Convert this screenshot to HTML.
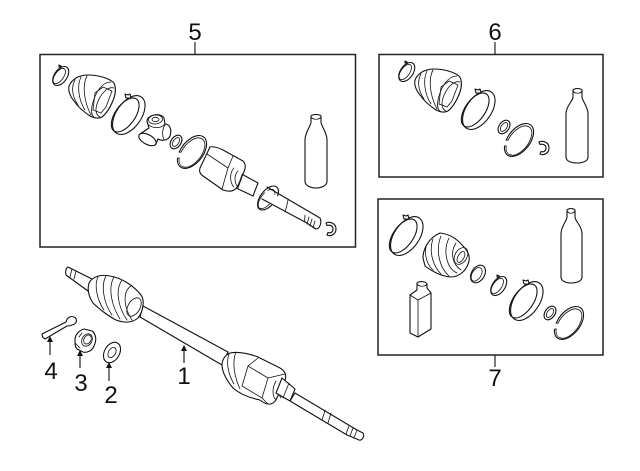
<!DOCTYPE html>
<html><head><meta charset="utf-8"><style>
html,body{margin:0;padding:0;background:#fff}
svg{display:block}
.l{fill:#fff;stroke:#111;stroke-width:1.1;stroke-linejoin:round;stroke-linecap:round}
.n{fill:none;stroke:#111;stroke-width:.8;stroke-linecap:round;stroke-linejoin:round}
.o{fill:none;stroke:#111;stroke-width:1.1;stroke-linecap:round;stroke-linejoin:round}
text{font-family:"Liberation Sans",sans-serif;font-size:24px;fill:#111;text-anchor:middle}
</style></head><body>
<svg width="640" height="471" viewBox="0 0 640 471" xmlns="http://www.w3.org/2000/svg">
<defs>
<g id="boot">
<path class="l" d="M69,86C72,79 79,75 88,75C98,75 108,78 113,82C116,85 116,92 114,98C111,106 107,113 102,117C98,119 94,118 90,116C84,112 78,107 74,101C70,96 68,91 69,86Z"/>
<path class="n" d="M75,80C71,87 72,96 78,105M81,77C77,85 78,99 85,110M87,76C82,85 84,102 91,115"/>
<path class="n" d="M111,82C102,82 96,92 93,102C91,109 91,115 94,117M114,88C107,86 100,95 97,104C95,110 96,115 100,117"/>
<path class="n" d="M95,93L103,87L112,91L106,107L101,113L93,110Z"/>
</g>
<g id="clampB">
<ellipse class="l" cx="1.500" cy="-1" rx="12.500" ry="22" transform="rotate(35)"/>
<ellipse class="o" cx="-1.500" cy="1" rx="10" ry="19.500" transform="rotate(35)"/>
<path class="l" d="M-1,-17L-2,-21L1,-20L3,-21L4,-17Z"/>
</g>
<g id="clampS">
<ellipse class="l" cx=".6" cy="-.4" rx="6.300" ry="10.700" transform="rotate(35)"/>
<ellipse class="n" cx="-.6" cy=".4" rx="4.400" ry="8.800" transform="rotate(35)"/>
<path class="l" d="M-1,-9L-1,-11L1,-10L2,-9Z"/>
</g>
<g id="ring">
<ellipse class="l" cx="0" cy="0" rx="5" ry="7.500" transform="rotate(35)"/>
<ellipse class="n" cx="0" cy="0" rx="2.800" ry="5" transform="rotate(35)"/>
</g>
<g id="snap">
<g transform="rotate(38)">
<path class="o" d="M-10,8A11,19 0 1 1 -7.500,13.900"/>
<path class="n" d="M-8.500,7A9.500,17 0 1 1 -6.500,12.400M-10,8L-8.500,7M-7.500,13.900L-6.500,12.400"/>
</g>
</g>
<g id="clip">
<path class="o" d="M-4,-6C1,-8 6,-5 6,0C6,5 1,8 -3,6L-2,3.500C1,4.500 3,3 3,0C3,-3 0,-4.500 -3,-3.500Z"/>
</g>
</defs>

<g fill="none" stroke="#222" stroke-width="1.5">
<rect x="40" y="54.500" width="315.500" height="192.500"/>
<rect x="379" y="54.500" width="224" height="122.500"/>
<rect x="378" y="199" width="225" height="156"/>
</g>
<g stroke="#111" stroke-width="1.1">
<path d="M195,42V54M495,42V54M495,355V367"/>
<path d="M50,340V355M80,354V368M109,366V381M184,349V363"/>
</g>
<path fill="#111" d="M50,336l-3,6h6zM80,350l-3,6h6zM109,362l-3,6h6zM184,345l-3,6h6z"/>
<text x="195" y="40">5</text><text x="495" y="40">6</text>
<text x="495" y="386">7</text>
<text x="51" y="379">4</text><text x="81" y="391">3</text><text x="111" y="403">2</text><text x="184" y="384">1</text>

<!-- box 5 -->
<use href="#clampS" x="60" y="76"/>
<use href="#boot"/>
<use href="#clampB" x="127" y="115"/>
<path class="l" d="M147,121C147,115 160,112 164,118L165,124C170,124 172,130 170,136C168,141 161,141 158,139L156,144L140,134L149,128Z"/>
<ellipse class="n" cx="155.500" cy="119.500" rx="7" ry="4.500" transform="rotate(-5 155.500 119.500)"/>
<ellipse class="n" cx="155.500" cy="119.500" rx="3.500" ry="2.200"/>
<ellipse class="l" cx="147.500" cy="139.500" rx="9.500" ry="4.800" transform="rotate(28 147.500 139.500)"/>
<path class="n" d="M147,122C148,128 160,130 165,124M165,125C162,129 162,135 164,140"/>
<use href="#ring" x="176" y="142"/>
<use href="#snap" x="192" y="152"/>
<path class="l" d="M238,172L258,183L253,196L234,187Z"/>
<path class="n" d="M243,174L238,188"/>
<ellipse class="l" cx="268" cy="198" rx="7.500" ry="14" transform="rotate(38 268 198)"/>
<ellipse class="n" cx="266.500" cy="199" rx="5.500" ry="11.500" transform="rotate(38 266.500 199)"/>
<path d="M266,190L318,218L316,229L304,222L262,200Z" fill="#fff"/>
<path class="o" d="M267,187L320,218C322,222 320,229 316,229L305,222L262,199"/>
<path class="n" d="M288,200C287,205 286,209 285,212M305,215C305,218 304,220 305,222M309,217L307,224M312,219L310,226M315,221L313,228"/>
<path class="l" d="M210,147C214,146 219,148 223,150L243,161C247,165 245,171 242,175C240,181 238,188 234,190C231,192 226,191 223,190L203,176C200,174 199,171 200,168Z"/>
<path class="n" d="M207,154L228,168L222,189M228,168L233,156"/>
<path class="n" d="M234,168C230,172 229,182 234,187M238,171C234,175 234,183 238,187"/>
<use href="#clip" x="330" y="229"/>
<path class="l" d="M311,116L311,122C311,126 305,132 305,140L305,181C305,186 311,188 316,188C321,188 327,186 327,181L327,140C327,132 321,126 321,122L321,116C319,114 313,114 311,116Z"/>
<path class="n" d="M311,117C313,120 319,120 321,117"/>

<!-- box 6 -->
<use href="#clampS" x="406" y="72"/>
<use href="#boot" x="346" y="-6"/>
<use href="#clampB" x="477" y="110"/>
<use href="#ring" x="504" y="127"/>
<use href="#snap" x="519" y="140"/>
<use href="#clip" x="543" y="148"/>
<path class="l" d="M573,90L573,97C573,101 566,106 566,114L566,157C566,161 571,163 577,163C583,163 588,161 588,157L588,114C588,106 582,101 582,97L582,90C580,88 575,88 573,90Z"/>
<path class="n" d="M573,91C575,94 580,94 582,91"/>

<!-- box 7 -->
<use href="#clampB" x="405" y="236"/>
<path class="l" d="M423,258C423,250 428,238 440,233C450,234 458,240 463,246C468,251 470,256 469,261C467,270 460,277 450,277C440,276 430,270 425,266Z"/>
<path class="n" d="M426,247C424,256 428,266 433,270M433,239C429,250 432,265 441,274M441,236C436,248 438,266 449,276M449,238C443,250 446,268 457,273M456,243C450,252 452,264 461,270"/>
<ellipse class="n" cx="461" cy="256" rx="6" ry="9" transform="rotate(30 461 256)"/>
<ellipse class="n" cx="461" cy="257" rx="3" ry="6" transform="rotate(30 461 257)"/>
<ellipse class="l" cx="478" cy="274" rx="6.500" ry="9.500" transform="rotate(32 478 274)"/>
<ellipse class="n" cx="477" cy="275" rx="4.500" ry="7.500" transform="rotate(32 478 274)"/>
<use href="#clampS" x="498" y="286"/>
<use href="#clampB" x="525" y="301"/>
<use href="#ring" x="550" y="313"/>
<use href="#snap" x="569" y="323"/>
<path class="l" d="M567,210L567,217C567,221 561,226 561,234L561,277C561,281 566,283 571,283C577,283 582,281 582,277L582,234C582,226 575,221 575,217L575,210C573,208 569,208 567,210Z"/>
<path class="n" d="M567,211C569,214 573,214 575,211"/>
<path class="l" d="M410,295L417,290L417,283C419,281 426,281 427,284L427,288L431,293L431,329L418,337L410,333Z"/>
<path class="n" d="M410,295L418,300L431,293M418,300L418,337M417,284C419,287 425,287 427,284"/>

<!-- main shaft -->
<path class="l" d="M68,267L92,279L88,291L66,275C65,272 66,268 68,267Z"/>
<path class="n" d="M72,269L70,277M76,271L74,279"/>
<path class="l" d="M143,306L228,352L222,365L140,317Z"/>
<path class="l" d="M89,283C92,277 100,274 110,276C122,278 134,286 141,295C145,300 143,312 138,318C132,323 124,323 116,320C108,316 98,308 93,303C89,297 87,290 89,283Z"/>
<path class="n" d="M98,277C94,285 97,300 104,310M106,276C101,285 103,302 112,315M114,277C108,287 111,305 120,319M122,280C115,290 118,307 127,320M131,286C122,292 124,308 132,320"/>
<ellipse class="n" cx="134" cy="307" rx="6" ry="10" transform="rotate(30 134 307)"/>
<path class="l" d="M295,393L357,430L363,433C365,436 362,441 359,440L347,435L290,401Z"/>
<path class="n" d="M325,410C324,414 323,417 322,420M331,413L328,423M349,426L346,434M353,428L350,436M357,430L354,438"/>
<path class="l" d="M222,365C222,360 225,355 230,353C240,351 250,354 258,357L280,368C287,372 287,378 283,385L276,400C272,406 266,405 260,400C250,398 240,394 233,388C227,381 222,372 222,365Z"/>
<path class="n" d="M229,354C226,362 228,374 234,384M236,352C232,362 234,376 240,389"/>
<path class="n" d="M248,366L258,358M248,366L242,386L262,398L268,378L248,366M268,378L285,374M262,398L268,404"/>
<path class="n" d="M276,381C272,388 272,396 276,400M281,382C278,388 278,394 281,398"/>
<path class="l" d="M282,378L295,389L290,401L276,393Z"/>
<path class="n" d="M289,383L283,398"/>

<!-- small parts -->
<path class="l" d="M42,334L66,322C67,317 71,316 74,317C78,319 77,324 72,325C70,326 68,326 67,326L45,339C43,338 42,336 42,334Z"/>
<path class="l" d="M75,340C75,334 80,330 84,329L92,331C96,334 97,340 94,346C92,351 87,353 83,352L77,349C75,347 75,344 75,340Z"/>
<ellipse class="n" cx="87" cy="340" rx="5" ry="6.500" transform="rotate(30 87 340)"/>
<ellipse class="n" cx="87.500" cy="339.500" rx="3.500" ry="4.800" transform="rotate(30 87.500 339.500)"/>
<path class="n" d="M79,337L82,333M80,348L75,343"/>
<ellipse class="l" cx="112" cy="352.500" rx="7.500" ry="11" transform="rotate(30 112 352.500)"/>
<ellipse class="n" cx="112" cy="352.500" rx="3.500" ry="5.500" transform="rotate(30 112 352.500)"/>
</svg>
</body></html>
